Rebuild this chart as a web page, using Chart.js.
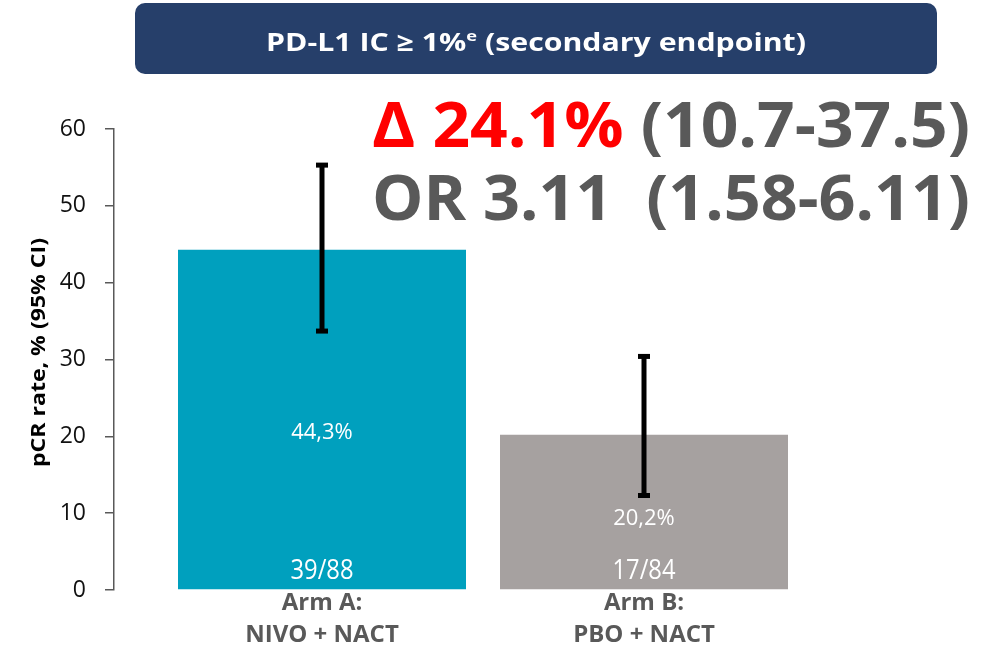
<!DOCTYPE html>
<html>
<head>
<meta charset="utf-8">
<script src="https://cdn.jsdelivr.net/npm/chart.js@4/dist/chart.umd.min.js"></script>
<style>
  html, body { margin: 0; padding: 0; background: #ffffff; }
  #wrap { width: 986px; height: 646px; position: relative; }
</style>
</head>
<body>
<div id="wrap"><canvas id="c" width="986" height="646"></canvas></div>
<script>
// ---- data ----
const categories = [["Arm A:", "NIVO + NACT"], ["Arm B:", "PBO + NACT"]];
const positions = [1, 2];
const pcrRate = [44.3, 20.2];
const ciLow = [33.7, 12.3];
const ciHigh = [55.3, 30.4];
const rateLabels = ["44,3%", "20,2%"];
const countLabels = ["39/88", "17/84"];
const yTicks = [0, 10, 20, 30, 40, 50, 60];
const yTitle = "pCR rate, % (95% CI)";
const headerText = "PD-L1 IC \u2265 1%";
const headerSup = "e";
const headerRest = " (secondary endpoint)";
const deltaRed = "\u0394 24.1%";
const deltaGray = " (10.7-37.5)";
const orText = "OR 3.11 \u00A0(1.58-6.11)";

const barColors = ["#00a0be", "#a6a1a0"];

const overlay = {
  id: 'overlay',
  afterDatasetsDraw(chart) {
    const ctx = chart.ctx;
    const x = chart.scales.x, y = chart.scales.y;
    // error bars
    ctx.save();
    ctx.strokeStyle = '#000';
    ctx.fillStyle = '#000';
    for (let i = 0; i < pcrRate.length; i++) {
      const px = x.getPixelForValue(positions[i]);
      const yl = y.getPixelForValue(ciLow[i]);
      const yh = y.getPixelForValue(ciHigh[i]);
      ctx.lineWidth = 5;
      ctx.beginPath();
      ctx.moveTo(px, yl);
      ctx.lineTo(px, yh);
      ctx.stroke();
      ctx.fillRect(px - 6, yh - 2.5, 12, 5);
      ctx.fillRect(px - 6, yl - 2.5, 12, 5);
    }
    // value labels
    ctx.fillStyle = '#ffffff';
    ctx.textAlign = 'center';
    ctx.textBaseline = 'middle';
    for (let i = 0; i < pcrRate.length; i++) {
      const px = x.getPixelForValue(positions[i]);
      ctx.font = '22px "Open Sans"';
      ctx.fillText(rateLabels[i], px, y.getPixelForValue(pcrRate[i] * 0.465) + 1);
      ctx.font = '25px "Open Sans"';
      ctx.save();
      ctx.translate(px, y.getPixelForValue(0) - 19);
      ctx.scale(0.95, 1.08);
      ctx.fillText(countLabels[i], 0, 0);
      ctx.restore();
    }
    ctx.restore();

    // y-axis title
    ctx.save();
    ctx.font = 'bold 19px "Open Sans"';
    ctx.fillStyle = '#000';
    ctx.textAlign = 'center';
    ctx.textBaseline = 'middle';
    const tw = ctx.measureText(yTitle).width;
    ctx.translate(40, (chart.chartArea.top + chart.chartArea.bottom) / 2 - 7);
    ctx.rotate(-Math.PI / 2);
    ctx.scale(229 / tw, 1);
    ctx.fillText(yTitle, 0, 0);
    ctx.restore();
  },
  afterDraw(chart) {
    const ctx = chart.ctx;
    ctx.save();
    // header box
    const bx = 135, by = 3, bw = 802, bh = 71, r = 10;
    ctx.fillStyle = '#263f6a';
    ctx.beginPath();
    ctx.roundRect(bx, by, bw, bh, r);
    ctx.fill();
    // header text
    ctx.fillStyle = '#ffffff';
    ctx.textBaseline = 'alphabetic';
    ctx.textAlign = 'left';
    const hf = 'bold 25px "Open Sans"';
    const sf = 'bold 15px "Open Sans"';
    ctx.font = hf; const w1 = ctx.measureText(headerText).width;
    const w3 = ctx.measureText(headerRest).width;
    ctx.font = sf; const w2 = ctx.measureText(headerSup).width;
    const total = w1 + w2 + w3;
    const target = 540;
    const sx = target / total;
    ctx.translate(536 - target / 2, 51);
    ctx.scale(sx, 1);
    ctx.font = hf; ctx.fillText(headerText, 0, 0);
    ctx.font = sf; ctx.fillText(headerSup, w1, -10);
    ctx.font = hf; ctx.fillText(headerRest, w1 + w2, 0);
    ctx.restore();

    // big annotation
    ctx.save();
    const bf = 'bold 62px "Open Sans"';
    ctx.font = bf;
    ctx.textBaseline = 'alphabetic';
    ctx.textAlign = 'left';
    const a1 = ctx.measureText(deltaRed).width;
    const a2 = ctx.measureText(deltaGray).width;
    const L = 372, W = 598;
    ctx.save();
    ctx.translate(L, 147);
    ctx.scale(W / (a1 + a2), 1);
    ctx.fillStyle = '#ff0000';
    ctx.fillText(deltaRed, 0, 0);
    ctx.fillStyle = '#595959';
    ctx.fillText(deltaGray, a1, 0);
    ctx.restore();
    const b1 = ctx.measureText(orText).width;
    ctx.save();
    ctx.translate(L, 220);
    ctx.scale(W / b1, 1);
    ctx.fillStyle = '#595959';
    ctx.fillText(orText, 0, 0);
    ctx.restore();
    ctx.restore();
  }
};

new Chart(document.getElementById('c'), {
  type: 'bar',
  data: {
    datasets: [{
      data: positions.map((p, i) => ({ x: p, y: pcrRate[i] })),
      backgroundColor: barColors,
      borderWidth: 0,
      barPercentage: 1,
      categoryPercentage: 288 / 322
    }]
  },
  options: {
    responsive: false,
    animation: false,
    events: [],
    layout: { padding: { top: 129, right: 20, left: 0, bottom: 0 } },
    plugins: { legend: { display: false }, tooltip: { enabled: false } },
    scales: {
      x: {
        type: 'linear',
        offset: false,
        min: 1 - 208 / 322,
        max: 2 + 322 / 322,
        grid: { display: false, offset: false },
        border: { display: false },
        afterBuildTicks(scale) { scale.ticks = positions.map(v => ({ value: v })); },
        afterFit(scale) { scale.height = 56; },
        ticks: {
          autoSkip: false,
          maxRotation: 0,
          padding: -11,
          color: '#595959',
          font: { family: '"Open Sans"', size: 24, weight: 'bold', lineHeight: 1.34 },
          callback(v) { const i = positions.indexOf(v); return i >= 0 ? categories[i] : ''; }
        }
      },
      y: {
        min: 0,
        max: 60,
        afterBuildTicks(scale) { scale.ticks = yTicks.map(v => ({ value: v })); },
        afterFit(scale) { scale.width = 114; },
        grid: { display: true, drawOnChartArea: false, drawTicks: true, tickLength: 9, color: '#595959', lineWidth: 1.5 },
        border: { display: true, color: '#595959', width: 1.5 },
        ticks: {
          padding: 19,
          color: '#111',
          font: { family: '"Open Sans"', size: 23 }
        },
        title: { display: false }
      }
    }
  },
  plugins: [overlay]
});
</script>
</body>
</html>
